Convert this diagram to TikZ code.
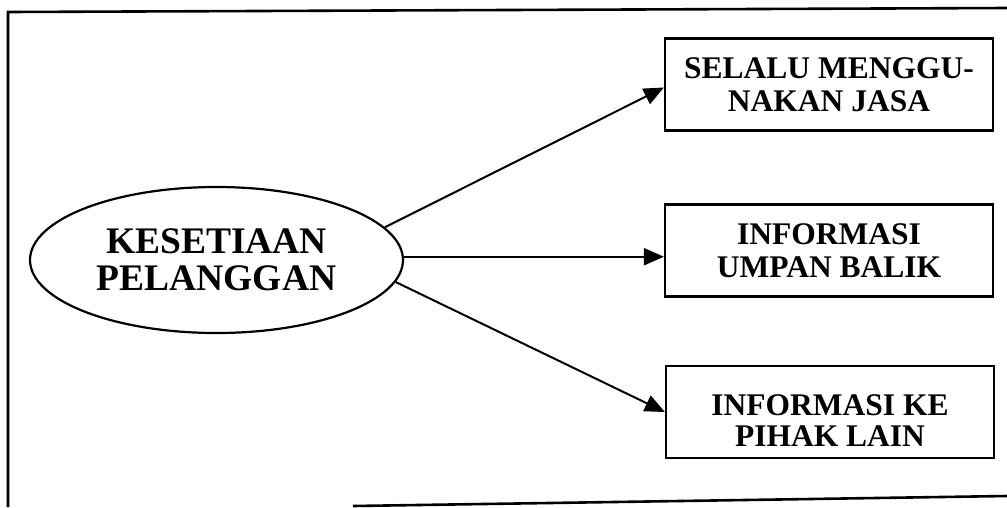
\documentclass[tikz,border=0pt]{standalone}
\usepackage{fontspec}
\setmainfont{Liberation Serif}
\usetikzlibrary{arrows.meta,shapes.geometric}
\begin{document}
\begin{tikzpicture}[x=1pt,y=-1pt,
  frame/.style={line width=2.6pt},
  outcome/.style={draw,line width=2.2pt,minimum width=328pt,minimum height=92pt,
    inner sep=0pt,align=center,font=\fontsize{31.5}{33}\selectfont\bfseries},
  core/.style={draw,ellipse,line width=2.2pt,minimum width=373pt,minimum height=146pt,
    inner sep=0pt,align=center,font=\fontsize{37.5}{37}\selectfont\bfseries},
  link/.style={line width=2pt,-{Triangle[length=20pt,width=17pt]}}]
\useasboundingbox (0,0) rectangle (1007,507);
\fill[white] (0,0) rectangle (1007,507);

% outer frame
\coordinate (ftl) at (8,12);
\coordinate (ftr) at (1007,8);
\coordinate (fbl) at (8,507);
\coordinate (fbs) at (353,506);
\coordinate (fbr) at (1007,496);
\draw[frame] (fbl) -- (ftl) -- (ftr);
\draw[frame] (fbs) -- (fbr);

% central concept
\node[core] (loyal) at (216.5,260) {KESETIAAN\\PELANGGAN};

% outcomes
\node[outcome] (use) at (829,84.5) {SELALU MENGGU-\\NAKAN JASA};
\node[outcome] (feed) at (829,250.5) {INFORMASI\\UMPAN BALIK};
\node[outcome,label={[align=center,yshift=-9pt,
    font=\fontsize{31.5}{31}\selectfont\bfseries]center:INFORMASI KE\\PIHAK LAIN}]
  (tell) at (830,412) {};

% connectors
\draw[link] (loyal.11) -- ([yshift=-3pt]use.west);
\draw[link] (loyal.1.5) -- (loyal.1.5 -| feed.west);
\draw[link] (loyal.-7) -- (tell.west);
\end{tikzpicture}
\end{document}
